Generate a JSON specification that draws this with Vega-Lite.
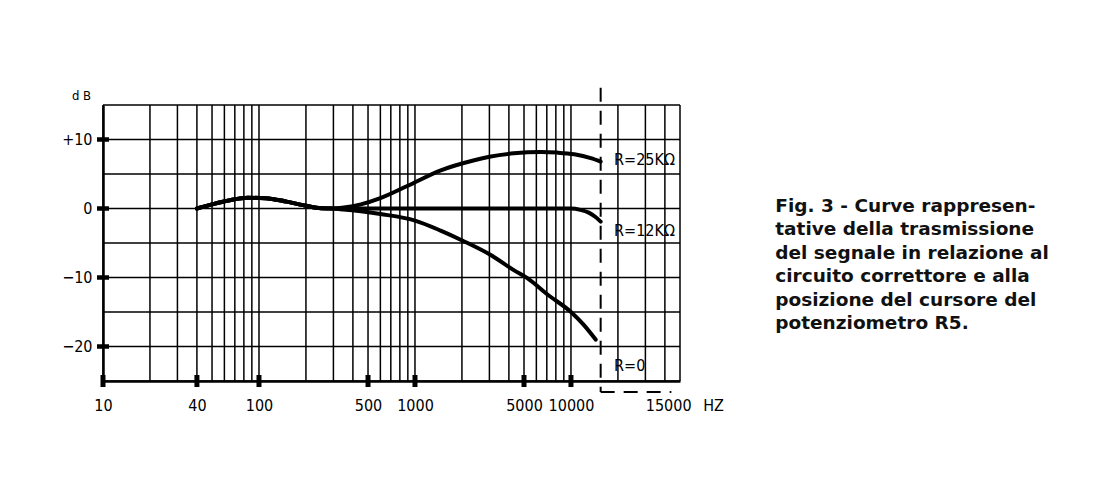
{
  "$schema": "https://vega.github.io/schema/vega-lite/v6.json",
  "width": 577,
  "height": 276,
  "autosize": {"type": "none"},
  "padding": {"left": 103, "top": 105, "right": 414, "bottom": 122},
  "background": "white",
  "config": {"view": {"stroke": null}, "font": "DejaVu Sans Condensed, Liberation Sans Narrow, DejaVu Sans"},
  "datasets": {
    "vgrid": [
      {"f": 10}, {"f": 20}, {"f": 30}, {"f": 40}, {"f": 50}, {"f": 60}, {"f": 70}, {"f": 80}, {"f": 90},
      {"f": 100}, {"f": 200}, {"f": 300}, {"f": 400}, {"f": 500}, {"f": 600}, {"f": 700}, {"f": 800}, {"f": 900},
      {"f": 1000}, {"f": 2000}, {"f": 3000}, {"f": 4000}, {"f": 5000}, {"f": 6000}, {"f": 7000}, {"f": 8000}, {"f": 9000},
      {"f": 10000}, {"f": 20000}, {"f": 30000}, {"f": 40000}, {"f": 50000}
    ],
    "hgrid": [
      {"db": 15}, {"db": 10}, {"db": 5}, {"db": 0}, {"db": -5}, {"db": -10}, {"db": -15}, {"db": -20}, {"db": -25}
    ],
    "curves": [
      {"series": "R=25K", "f": 40, "db": 0}, {"series": "R=25K", "f": 50, "db": 0.6}, {"series": "R=25K", "f": 65, "db": 1.2},
      {"series": "R=25K", "f": 85, "db": 1.55}, {"series": "R=25K", "f": 110, "db": 1.5}, {"series": "R=25K", "f": 150, "db": 1.0},
      {"series": "R=25K", "f": 200, "db": 0.4}, {"series": "R=25K", "f": 250, "db": 0.05}, {"series": "R=25K", "f": 300, "db": 0},
      {"series": "R=25K", "f": 350, "db": 0.15}, {"series": "R=25K", "f": 450, "db": 0.6}, {"series": "R=25K", "f": 600, "db": 1.5},
      {"series": "R=25K", "f": 900, "db": 3.3}, {"series": "R=25K", "f": 1450, "db": 5.5}, {"series": "R=25K", "f": 2400, "db": 7.0},
      {"series": "R=25K", "f": 3000, "db": 7.5}, {"series": "R=25K", "f": 4300, "db": 8.0}, {"series": "R=25K", "f": 6400, "db": 8.2},
      {"series": "R=25K", "f": 8200, "db": 8.1}, {"series": "R=25K", "f": 10500, "db": 7.85}, {"series": "R=25K", "f": 13400, "db": 7.3},
      {"series": "R=25K", "f": 15500, "db": 6.8},
      {"series": "R=12K", "f": 40, "db": 0}, {"series": "R=12K", "f": 50, "db": 0.6}, {"series": "R=12K", "f": 65, "db": 1.2},
      {"series": "R=12K", "f": 85, "db": 1.55}, {"series": "R=12K", "f": 110, "db": 1.5}, {"series": "R=12K", "f": 150, "db": 1.0},
      {"series": "R=12K", "f": 200, "db": 0.4}, {"series": "R=12K", "f": 250, "db": 0.05}, {"series": "R=12K", "f": 300, "db": 0},
      {"series": "R=12K", "f": 1000, "db": 0}, {"series": "R=12K", "f": 5000, "db": 0}, {"series": "R=12K", "f": 10000, "db": 0},
      {"series": "R=12K", "f": 11500, "db": -0.2}, {"series": "R=12K", "f": 13000, "db": -0.6}, {"series": "R=12K", "f": 14300, "db": -1.2},
      {"series": "R=12K", "f": 15500, "db": -1.9},
      {"series": "R=0", "f": 40, "db": 0}, {"series": "R=0", "f": 50, "db": 0.6}, {"series": "R=0", "f": 65, "db": 1.2},
      {"series": "R=0", "f": 85, "db": 1.55}, {"series": "R=0", "f": 110, "db": 1.5}, {"series": "R=0", "f": 150, "db": 1.0},
      {"series": "R=0", "f": 200, "db": 0.4}, {"series": "R=0", "f": 250, "db": 0.05}, {"series": "R=0", "f": 300, "db": 0},
      {"series": "R=0", "f": 350, "db": -0.15}, {"series": "R=0", "f": 450, "db": -0.4}, {"series": "R=0", "f": 600, "db": -0.8},
      {"series": "R=0", "f": 1000, "db": -1.75}, {"series": "R=0", "f": 1460, "db": -3.2}, {"series": "R=0", "f": 2040, "db": -4.7},
      {"series": "R=0", "f": 3040, "db": -6.7}, {"series": "R=0", "f": 4350, "db": -9.0}, {"series": "R=0", "f": 5250, "db": -10.1},
      {"series": "R=0", "f": 7100, "db": -12.5}, {"series": "R=0", "f": 10000, "db": -15}, {"series": "R=0", "f": 12000, "db": -16.8},
      {"series": "R=0", "f": 14400, "db": -19}
    ],
    "vdash": [{"f": 15500, "db": 17.5, "db2": -26.6}],
    "hdash": [{"f": 15500, "f2": 44000, "db": -26.6}],
    "xticks": [{"f": 10, "db": -25}, {"f": 40, "db": -25}, {"f": 100, "db": -25}, {"f": 500, "db": -25}, {"f": 1000, "db": -25}, {"f": 5000, "db": -25}, {"f": 10000, "db": -25}],
    "yticks": [{"f": 10, "db": 10}, {"f": 10, "db": 0}, {"f": 10, "db": -10}, {"f": 10, "db": -20}],
    "labels": [{"label": "R=25KΩ", "f": 18900, "db": 7.0}, {"label": "R=12KΩ", "f": 18900, "db": -3.2}, {"label": "R=0", "f": 18900, "db": -22.8}],
    "caption": [{"text": "Fig. 3 - Curve rappresen-\ntative della trasmissione\ndel segnale in relazione al\ncircuito correttore e alla\nposizione del cursore del\npotenziometro R5."}]
  },
  "layer": [
    {
      "data": {"name": "vgrid"},
      "mark": {"type": "rule", "color": "black", "strokeWidth": 1.5},
      "encoding": {
        "x": {
          "field": "f", "type": "quantitative",
          "scale": {"type": "log", "domain": [10, 50000], "nice": false},
          "axis": {
            "values": [10, 40, 100, 500, 1000, 5000, 10000, 42000],
            "labelExpr": "datum.value > 20000 ? '15000' : format(datum.value, 'd')",
            "grid": false, "ticks": false,
            "domain": true, "domainColor": "black", "domainWidth": 2.5,
            "labelPadding": 24, "labelBaseline": "middle", "labelAlign": "center",
            "labelFontSize": 16, "labelColor": "black", "labelFlush": false, "labelOverlap": false, "labelBound": false,
            "title": "HZ", "titleX": 610, "titleY": 24, "titleAlign": "center", "titleBaseline": "middle",
            "titleFontSize": 16, "titleFontWeight": "normal", "titleColor": "black"
          }
        }
      }
    },
    {
      "data": {"name": "hgrid"},
      "mark": {"type": "rule", "color": "black", "strokeWidth": 1.5},
      "encoding": {
        "y": {
          "field": "db", "type": "quantitative",
          "scale": {"domain": [-25, 15], "nice": false, "zero": false},
          "axis": {
            "values": [10, 0, -10, -20],
            "labelExpr": "datum.value > 0 ? '+10' : datum.value < 0 ? '−' + abs(datum.value) : '0'",
            "grid": false, "ticks": false,
            "domain": true, "domainColor": "black", "domainWidth": 2.5,
            "labelPadding": 11, "labelBaseline": "middle", "labelAlign": "right",
            "labelFontSize": 16, "labelColor": "black", "labelFlush": false, "labelOverlap": false, "labelBound": false,
            "title": "d B", "titleAngle": 0, "titleX": -22, "titleY": -10, "titleAlign": "center", "titleBaseline": "middle",
            "titleFontSize": 13, "titleFontWeight": "normal", "titleColor": "black"
          }
        }
      }
    },
    {
      "data": {"name": "curves"},
      "mark": {"type": "line", "color": "black", "strokeWidth": 4, "interpolate": "monotone", "strokeCap": "round"},
      "encoding": {
        "x": {"field": "f", "type": "quantitative", "scale": {"type": "log", "domain": [10, 50000], "nice": false}},
        "y": {"field": "db", "type": "quantitative", "scale": {"domain": [-25, 15], "nice": false, "zero": false}},
        "detail": {"field": "series"}
      }
    },
    {
      "data": {"name": "vdash"},
      "mark": {"type": "rule", "color": "black", "strokeWidth": 2, "strokeDash": [14, 9], "clip": false},
      "encoding": {
        "x": {"field": "f", "type": "quantitative", "scale": {"type": "log", "domain": [10, 50000], "nice": false}},
        "y": {"field": "db", "type": "quantitative", "scale": {"domain": [-25, 15], "nice": false, "zero": false}},
        "y2": {"field": "db2"}
      }
    },
    {
      "data": {"name": "hdash"},
      "mark": {"type": "rule", "color": "black", "strokeWidth": 2, "strokeDash": [14, 9], "clip": false},
      "encoding": {
        "x": {"field": "f", "type": "quantitative", "scale": {"type": "log", "domain": [10, 50000], "nice": false}},
        "x2": {"field": "f2"},
        "y": {"field": "db", "type": "quantitative", "scale": {"domain": [-25, 15], "nice": false, "zero": false}}
      }
    },
    {
      "data": {"name": "xticks"},
      "mark": {"type": "tick", "orient": "vertical", "color": "black", "size": 12, "thickness": 5, "clip": false, "opacity": 1},
      "encoding": {
        "x": {"field": "f", "type": "quantitative", "scale": {"type": "log", "domain": [10, 50000], "nice": false}},
        "y": {"field": "db", "type": "quantitative", "scale": {"domain": [-25, 15], "nice": false, "zero": false}}
      }
    },
    {
      "data": {"name": "yticks"},
      "mark": {"type": "tick", "orient": "horizontal", "color": "black", "size": 12, "thickness": 4.5, "clip": false, "opacity": 1},
      "encoding": {
        "x": {"field": "f", "type": "quantitative", "scale": {"type": "log", "domain": [10, 50000], "nice": false}},
        "y": {"field": "db", "type": "quantitative", "scale": {"domain": [-25, 15], "nice": false, "zero": false}}
      }
    },
    {
      "data": {"name": "labels"},
      "mark": {"type": "text", "align": "left", "baseline": "middle", "fontSize": 16, "color": "black", "clip": false},
      "encoding": {
        "x": {"field": "f", "type": "quantitative", "scale": {"type": "log", "domain": [10, 50000], "nice": false}},
        "y": {"field": "db", "type": "quantitative", "scale": {"domain": [-25, 15], "nice": false, "zero": false}},
        "text": {"field": "label"}
      }
    },
    {
      "data": {"name": "caption"},
      "mark": {"type": "text", "align": "left", "baseline": "top", "lineBreak": "\n", "lineHeight": 23.5, "font": "DejaVu Sans", "fontSize": 18.5, "fontWeight": "bold", "color": "#111111", "clip": false},
      "encoding": {
        "x": {"datum": 204000, "type": "quantitative", "scale": {"type": "log", "domain": [10, 50000], "nice": false}},
        "y": {"datum": 1.7, "type": "quantitative", "scale": {"domain": [-25, 15], "nice": false, "zero": false}},
        "text": {"field": "text"}
      }
    }
  ]
}
